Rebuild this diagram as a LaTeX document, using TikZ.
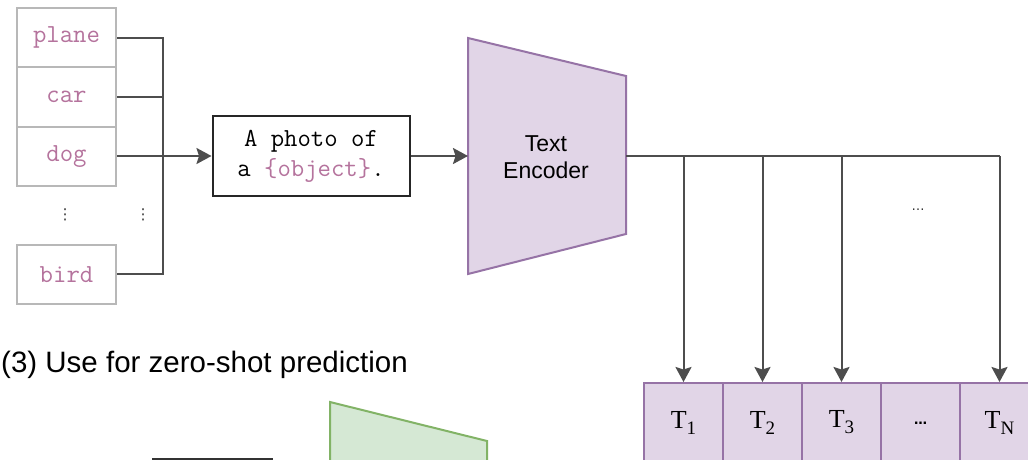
\documentclass[tikz,border=0pt]{standalone}
\usepackage{fontspec}
\setmainfont{Liberation Serif}
\setsansfont{Liberation Sans}
\newfontfamily\symfont{DejaVu Sans}
\usetikzlibrary{arrows.meta}
\definecolor{wire}{HTML}{4D4D4D}
\definecolor{boxgray}{HTML}{B8B8B8}
\definecolor{tag}{HTML}{B5739D}
\definecolor{encfill}{HTML}{E1D5E7}
\definecolor{encline}{HTML}{9673A6}
\definecolor{imgfill}{HTML}{D5E8D4}
\definecolor{imgline}{HTML}{82B366}
\newcommand{\tsub}[1]{T\raisebox{-6pt}{\fontsize{19}{19}\selectfont #1}}
\tikzset{
  label box/.style={draw=boxgray, line width=2pt, fill=white, minimum width=99pt,
    minimum height=59pt, inner sep=0pt, text=tag,
    font=\ttfamily\fontsize{26}{29}\selectfont},
  wireline/.style={draw=wire, line width=2pt},
  feed/.style={wireline, -{Stealth[length=15pt, width=16pt, inset=2.5pt]}},
  tok/.style={draw=encline, line width=2pt, fill=encfill, minimum width=79pt,
    minimum height=79pt, inner sep=0pt, font=\fontsize{26}{29}\selectfont},
  dots/.style={font=\symfont\fontsize{15}{18}\selectfont, inner sep=0pt, text=black!80}
}
\begin{document}
\begin{tikzpicture}[x=1pt,y=-1pt]
\useasboundingbox (0,0) rectangle (1028,460);
\clip (0,0) rectangle (1028,460);
\fill[white] (0,0) rectangle (1028,460);

% class names
\node[label box] (plane) at (66.5,37.5) {plane};
\node[label box] (car)   at (66.5,97)   {car};
\node[label box] (dog)   at (66.5,156.5) {dog};
\node[label box] (bird)  at (66.5,274.5) {bird};
\node[dots] (vd1) at (65,215) {⋮};
\node[dots] (vd2) at (143,215) {⋮};

% prompt template
\node[draw=black!85, line width=2pt, fill=white, minimum width=197pt, minimum height=80pt,
  inner sep=0pt, align=center, font=\ttfamily\fontsize{26}{30}\selectfont] (photo) at (311,156)
  {A photo of\\a \textcolor{tag}{\{object\}}.};

% gathering bus
\coordinate (jp) at (163,38);
\coordinate (jc) at (163,97);
\coordinate (jb) at (163,274);
\draw[wireline] (plane.east |- jp) -- (jp) -- (jb) -- (bird.east |- jb);
\draw[wireline] (car.east |- jc) -- (jc);
\draw[feed] (dog.east |- photo.west) -- (photo.west);

% text encoder
\coordinate (encL) at (468,156);
\coordinate (encR) at (626,156);
\draw[draw=encline, line width=2pt, fill=encfill]
  (468,38) -- (626,76) -- (626,234) -- (468,274) -- cycle;
\node[align=center, font=\sffamily\fontsize{23}{27}\selectfont] (enc) at (546,157) {Text\\Encoder};
\draw[feed] (photo.east) -- (encL);

% text embeddings
\node[tok] (t1) at (683.5,422.5) {\tsub{1}};
\node[tok] (t2) at (762.5,422.5) {\tsub{2}};
\node[tok] (t3) at (841.5,422.5) {\tsub{3}};
\node[tok, font=\symfont\bfseries\fontsize{13}{15}\selectfont] (tdots) at (920.5,422.5) {\raisebox{-4pt}{…}};
\node[tok] (tn) at (999.5,422.5) {\tsub{N}};

\draw[wireline] (encR) -- (tn.north |- encR);
\foreach \t in {t1,t2,t3,tn}
  \draw[feed] (\t.north |- encR) -- (\t.north);
\node[dots, font=\symfont\fontsize{13}{15}\selectfont] (hdots) at (918,210) {…};

% zero-shot prediction section
\node[anchor=base west, inner sep=0pt, font=\sffamily\fontsize{29.5}{33}\selectfont] (title)
  at (1,372) {(3) Use for zero-shot prediction};
\draw[draw=imgline, line width=2pt, fill=imgfill]
  (330,402) -- (487,441) -- (487,600) -- (330,640) -- cycle;
\draw[draw=black!80, line width=2pt, fill=white] (153,459) rectangle (272,540);
\end{tikzpicture}
\end{document}
